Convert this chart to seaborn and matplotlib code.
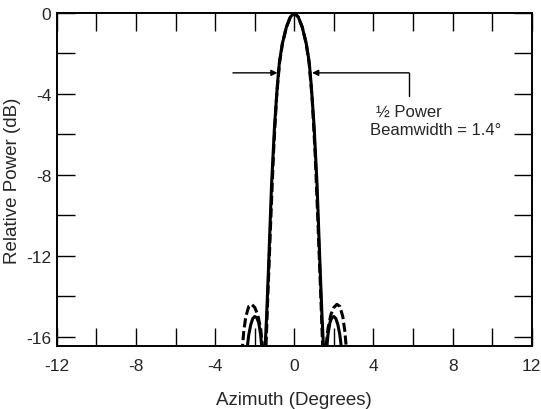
import pandas as pd
import matplotlib.pyplot as plt
import seaborn as sns

# Antenna pattern (azimuth in degrees, relative power in dB)
# values below the plot floor are nulls, they get clipped by the axes
solid_az = [-2.45, -2.4, -2.3, -2.2, -2.1, -2.0, -1.9, -1.8, -1.7, -1.6,
            -1.55, -1.5, -1.4, -1.3, -1.15, -1.0, -0.85, -0.75, -0.6, -0.4, -0.2,
            0.0, 0.2, 0.4, 0.6, 0.75, 0.85, 1.0, 1.15, 1.3, 1.4, 1.5,
            1.55, 1.6, 1.7, 1.8, 1.9, 2.0, 2.1, 2.2, 2.3, 2.4, 2.45]
solid_db = [-17.2, -16.7, -15.9, -15.4, -15.1, -15.0, -15.05, -15.3, -15.9, -17.0,
            -20.0, -17.0, -15.0, -12.5, -8.5, -5.6, -3.5, -2.4, -1.5, -0.7, -0.2,
            0.0, -0.2, -0.7, -1.5, -2.4, -3.5, -5.6, -8.5, -12.5, -15.0, -17.0,
            -20.0, -17.0, -15.9, -15.3, -15.05, -15.0, -15.1, -15.4, -15.9, -16.7, -17.2]

dashed_az = [-2.65, -2.55, -2.45, -2.3, -2.15, -2.0, -1.85, -1.7, -1.55,
             -1.5, -1.45, -1.35, -1.2, -1.05, -0.9, -0.75, -0.6, -0.4, -0.2,
             0.0, 0.2, 0.4, 0.6, 0.75, 0.9, 1.05, 1.2, 1.35, 1.45,
             1.5, 1.55, 1.7, 1.85, 2.0, 2.15, 2.3, 2.45, 2.55, 2.65]
dashed_db = [-16.8, -15.7, -15.0, -14.5, -14.4, -14.55, -14.9, -15.6, -17.0,
             -20.0, -17.0, -14.3, -10.5, -6.9, -4.2, -2.5, -1.5, -0.7, -0.2,
             0.0, -0.2, -0.7, -1.5, -2.5, -4.2, -6.9, -10.5, -14.3, -17.0,
             -20.0, -17.0, -15.6, -14.9, -14.55, -14.4, -14.5, -15.0, -15.7, -16.8]

x_ticks = [-12, -8, -4, 0, 4, 8, 12]
y_ticks = [-16, -12, -8, -4, 0]

df = pd.concat([
    pd.DataFrame({'az': solid_az, 'db': solid_db, 'pattern': 'solid'}),
    pd.DataFrame({'az': dashed_az, 'db': dashed_db, 'pattern': 'dashed'}),
])

sns.set_style('ticks')
plt.rcParams['font.family'] = ['Liberation Sans', 'DejaVu Sans']

fig = plt.figure(figsize=(5.41, 4.1), dpi=100)
ax = fig.add_axes([0.105, 0.154, 0.878, 0.812])

sns.lineplot(data=df, x='az', y='db', style='pattern',
             dashes={'solid': '', 'dashed': (3, 1.2)},
             color='black', linewidth=2.2, estimator=None, sort=False,
             legend=False, ax=ax)

ax.set_xlim(-12, 12)
ax.set_ylim(-16.45, 0)
ax.set_xticks(x_ticks)
ax.set_xticklabels(['-12', '-8', '-4', '0', '4', '8', '12'])
ax.set_yticks(y_ticks)
ax.set_yticklabels(['-16', '-12', '-8', '-4', '0'])
ax.set_xticks([-10, -6, -2, 2, 6, 10], minor=True)
ax.set_yticks([-14, -10, -6, -2], minor=True)
ax.tick_params(which='both', direction='in', length=13, width=1.0,
               top=True, right=True, color='black')
ax.tick_params(axis='x', which='major', pad=9, labelsize=12.5)
ax.tick_params(axis='y', which='major', pad=4, labelsize=12.5)
for sp in ax.spines.values():
    sp.set_linewidth(1.4)
    sp.set_color('black')

ax.set_xlabel('Azimuth (Degrees)', fontsize=13.5)
ax.set_ylabel('Relative Power (dB)', fontsize=13.5)
ax.xaxis.set_label_coords(0.5, -0.135)
ax.yaxis.set_label_coords(-0.075, 0.5)

# half power arrows
hp = -2.96
ax.annotate('', xy=(-0.85, hp), xytext=(-3.1, hp),
            arrowprops=dict(arrowstyle='-|>', color='black', lw=1.0,
                            mutation_scale=9, shrinkA=0, shrinkB=0))
ax.plot([5.8, 5.8], [-4.1, hp], color='black', lw=1.0)
ax.annotate('', xy=(0.9, hp), xytext=(5.8, hp),
            arrowprops=dict(arrowstyle='-|>', color='black', lw=1.0,
                            mutation_scale=9, shrinkA=0, shrinkB=0))
ax.text(5.8, -4.85, '½ Power', ha='center', va='center', fontsize=12)
ax.text(7.15, -5.75, 'Beamwidth = 1.4°', ha='center', va='center', fontsize=12)

fig.savefig('out.png', dpi=100)
